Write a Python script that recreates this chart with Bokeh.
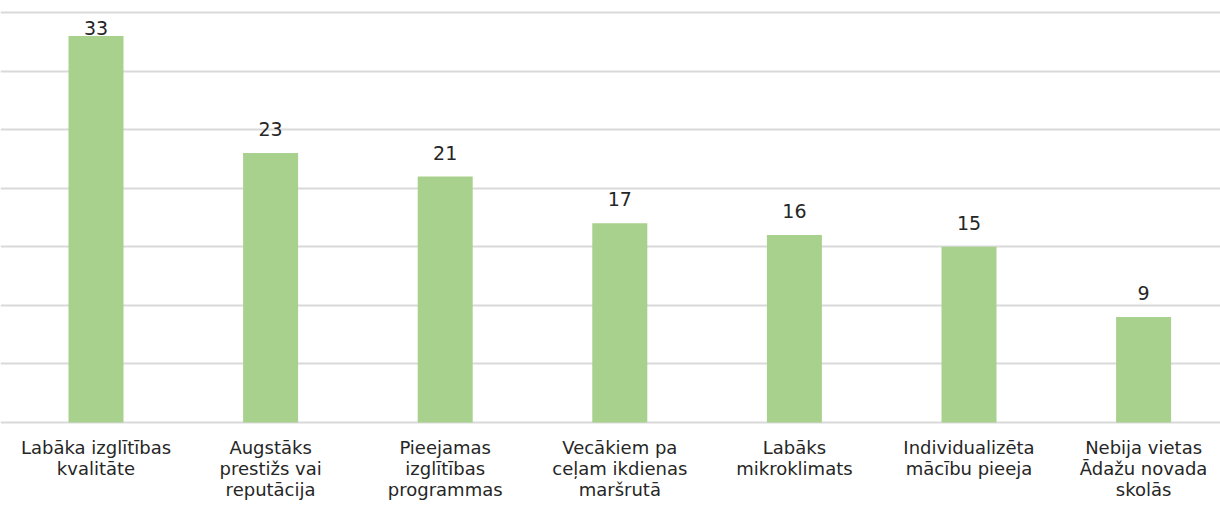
from bokeh.plotting import figure
from bokeh.models import ColumnDataSource, FixedTicker, Range1d
from bokeh.core.properties import value
from bokeh.embed import file_html
from bokeh.resources import INLINE

categories = [
    "Labāka izglītības\nkvalitāte",
    "Augstāks\nprestižs vai\nreputācija",
    "Pieejamas\nizglītības\nprogrammas",
    "Vecākiem pa\nceļam ikdienas\nmaršrutā",
    "Labāks\nmikroklimats",
    "Individualizēta\nmācību pieeja",
    "Nebija vietas\nĀdažu novada\nskolās",
]
values = [33, 23, 21, 17, 16, 15, 9]
grid_ticks = [0, 5, 10, 15, 20, 25, 30, 35]

FONT = "DejaVu Sans"
Y_MAX = 35
TEXT = "#262626"

W, H = 1220, 505
FRAME_TOP_PX = 12        # pixel row of the top gridline
ZERO_PX = 422            # pixel row of the zero line
PX_PER_UNIT = (ZERO_PX - FRAME_TOP_PX) / Y_MAX
SLOT_PX = 174.6          # pixel width of one category slot
FIRST_CENTER_PX = 95.5

LABEL_GAP = 24 / PX_PER_UNIT
INSIDE_GAP = 8 / PX_PER_UNIT
label_y = [v + LABEL_GAP if v + LABEL_GAP + 1.5 <= Y_MAX else v + INSIDE_GAP for v in values]

xs = list(range(len(categories)))
src = ColumnDataSource(dict(x=xs, top=values, label=[str(v) for v in values], ly=label_y))
cat_src = ColumnDataSource(dict(x=xs, y=[0] * len(xs), label=categories))

x0 = -FIRST_CENTER_PX / SLOT_PX
p = figure(width=W, height=H, output_backend="svg", toolbar_location=None,
           x_range=Range1d(x0, x0 + W / SLOT_PX),
           y_range=Range1d(-(H - ZERO_PX) / PX_PER_UNIT, Y_MAX + FRAME_TOP_PX / PX_PER_UNIT),
           min_border_left=0, min_border_right=0, min_border_top=0, min_border_bottom=0)
p.outline_line_color = None
p.background_fill_color = "white"
p.border_fill_color = "white"
p.xaxis.visible = False
p.yaxis.visible = False
p.xgrid.grid_line_color = None
p.ygrid.ticker = FixedTicker(ticks=grid_ticks)
p.ygrid.grid_line_color = "#D9D9D9"
p.ygrid.grid_line_width = 2

p.vbar(x="x", top="top", width=0.315, bottom=0, source=src,
       fill_color="#A9D18E", line_color=None)
p.text(x="x", y="ly", text="label", source=src,
       text_align="center", text_baseline="alphabetic",
       text_font=value(FONT), text_font_size="19px", text_color=TEXT)

p.text(x="x", y="y", text="label", source=cat_src, y_offset=14,
       text_align="center", text_baseline="top", text_line_height=1.0,
       text_font=value(FONT), text_font_size="18px", text_color=TEXT)

open("out.html", "w").write(file_html(p, INLINE))
